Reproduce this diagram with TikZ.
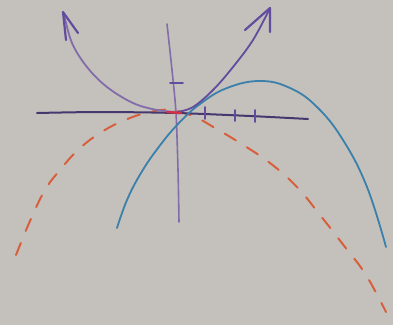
\documentclass[tikz,border=0pt]{standalone}
\usetikzlibrary{calc}
\definecolor{paper}{RGB}{196,193,188}
\definecolor{penpurple}{RGB}{98,76,158}
\definecolor{lightpurple}{RGB}{130,108,170}
\definecolor{axisdark}{RGB}{70,55,110}
\definecolor{penblue}{RGB}{58,128,170}
\definecolor{penorange}{RGB}{214,96,62}
\definecolor{penred}{RGB}{210,50,70}
\tikzset{
  purplepen/.style={draw=penpurple, line width=1.8pt, line cap=round, line join=round},
  bluepen/.style={draw=penblue, line width=1.8pt, line cap=round},
  orangepen/.style={draw=penorange, line width=2pt, line cap=round, dash pattern=on 13pt off 13pt},
  tickpen/.style={draw=penpurple, line width=1.6pt, line cap=round},
}
\begin{document}
\begin{tikzpicture}[x=1pt,y=-1pt]
\fill[paper] (0,0) rectangle (393,325);
\useasboundingbox (0,0) rectangle (393,325);
% orange dashed parabola
\draw[orangepen] plot[smooth, tension=0.7] coordinates {(16,255) (30,221) (45,190) (60,170) (78,150) (100,133) (125,120) (150,112) (172,110) (195,117) (215,128) (240,143) (270,163) (297,187) (320,215) (345,247) (366,275) (386,312)};
% axes
\draw[draw=axisdark, line width=2pt, line cap=round] plot[smooth] coordinates {(37,113) (100,112) (176,113) (250,116) (308,119)};
\draw[draw=lightpurple, line width=1.6pt, line cap=round] plot[smooth] coordinates {(167,24) (172,70) (176,113) (178,170) (179,222)};
% ticks
\draw[tickpen] (170,83) -- (183,83);
\draw[tickpen] (205,107) -- (205,119);
\draw[tickpen] (235,110) -- (235,121);
\draw[tickpen] (255,110) -- (255,122);
% blue parabola
\draw[bluepen] plot[smooth, tension=0.7] coordinates {(117,228) (127,200) (141,173) (158,148) (178,124) (200,104) (227,88) (260,81) (290,88) (317,107) (343,140) (367,187) (386,247)};
% purple parabola
\draw[draw=lightpurple, line width=1.8pt, line cap=round] plot[smooth, tension=0.6] coordinates {(64,14) (72,43) (87,67) (107,87) (133,103) (157,110) (177,112)};
\draw[purplepen] plot[smooth, tension=0.6] coordinates {(177,112) (193,107) (213,90) (233,67) (253,40) (269,10)};
% arrowheads
\draw[purplepen, line width=2.2pt] (66,40) -- (63,12) -- (78,33);
\draw[purplepen, line width=2.2pt] (245,30) -- (270,8) -- (270,32);
% red mark at origin
\draw[draw=penred, line width=2.4pt, line cap=round] (167,112) -- (181,113);
\end{tikzpicture}
\end{document}
